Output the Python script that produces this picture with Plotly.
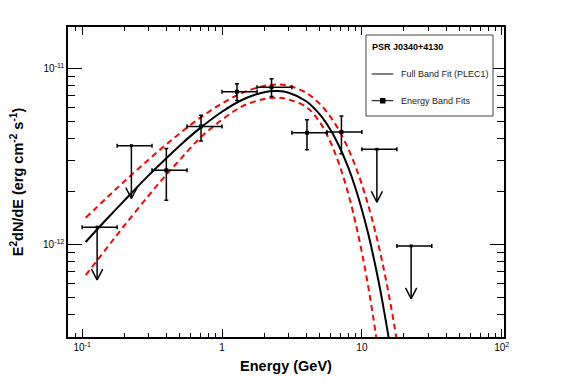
import plotly.graph_objects as go

# ---------------- data ----------------
# Energy band fits (GeV, erg cm^-2 s^-1)
band_energy = [0.128, 0.225, 0.40, 0.708, 1.28, 2.26, 4.05, 7.14, 12.8, 22.5]
band_e_low = [0.100, 0.178, 0.316, 0.562, 1.00, 1.78, 3.16, 5.62, 10.0, 17.8]
band_e_high = [0.178, 0.316, 0.562, 1.00, 1.78, 3.16, 5.62, 10.0, 17.8, 31.6]
band_flux = [1.25e-12, 3.63e-12, 2.63e-12, 4.67e-12, 7.35e-12, 7.80e-12,
             4.30e-12, 4.34e-12, 3.46e-12, 9.78e-13]
band_flux_high = [None, None, 3.50e-12, 5.40e-12, 8.16e-12, 8.71e-12,
                  5.09e-12, 5.35e-12, None, None]
band_flux_low = [None, None, 1.78e-12, 3.86e-12, 6.56e-12, 6.90e-12,
                 3.44e-12, 3.27e-12, None, None]
band_upper_limit = [True, True, False, False, False, False, False, False, True, True]

# Full band fit (PLEC1)
fit_energy = [0.106, 0.15, 0.2, 0.3, 0.4, 0.5, 0.7, 1.0, 1.4, 2.0, 2.5, 3.0, 4.0,
              5.0, 6.0, 7.0, 8.0, 9.0, 10, 11, 12, 13, 14, 15, 16]
fit_flux = [1.03e-12, 1.39e-12, 1.77e-12, 2.47e-12, 3.08e-12, 3.64e-12, 4.58e-12,
            5.66e-12, 6.62e-12, 7.31e-12, 7.41e-12, 7.26e-12, 6.49e-12, 5.46e-12,
            4.43e-12, 3.50e-12, 2.72e-12, 2.08e-12, 1.57e-12, 1.18e-12, 8.75e-13,
            6.47e-13, 4.75e-13, 3.48e-13, 2.54e-13]

# Upper envelope (red dashed)
upper_energy = [0.106, 0.15, 0.2, 0.3, 0.4, 0.5, 0.7, 1.0, 1.4, 2.0, 2.5, 3.0, 4.0,
                5.0, 6.0, 7.0, 8.0, 9.0, 10, 11, 12, 13, 14, 15, 16, 17, 18]
upper_flux = [1.413e-12, 1.837e-12, 2.270e-12, 3.034e-12, 3.690e-12, 4.27e-12,
              5.236e-12, 6.310e-12, 7.244e-12, 7.932e-12, 8.072e-12, 7.943e-12,
              7.244e-12, 6.273e-12, 5.260e-12, 4.315e-12, 3.477e-12, 2.770e-12,
              2.185e-12, 1.710e-12, 1.329e-12, 1.028e-12, 7.91e-13, 6.05e-13,
              4.62e-13, 3.52e-13, 2.67e-13]

# Lower envelope (red dashed)
lower_energy = [0.106, 0.15, 0.2, 0.3, 0.4, 0.5, 0.7, 1.0, 1.4, 2.0, 2.5, 3.0, 4.0,
                5.0, 6.0, 7.0, 8.0, 9.0, 10, 11, 12, 13]
lower_flux = [6.67e-13, 9.51e-13, 1.274e-12, 1.897e-12, 2.483e-12, 3.020e-12,
              4.027e-12, 5.093e-12, 6.081e-12, 6.683e-12, 6.792e-12, 6.637e-12,
              6.026e-12, 4.943e-12, 3.758e-12, 2.735e-12, 1.932e-12, 1.330e-12,
              8.99e-13, 6.00e-13, 3.94e-13, 2.56e-13]

legend_title = "PSR J0340+4130"
fit_label = "Full Band Fit (PLEC1)"
band_label = "Energy Band Fits"

x_tick_vals = [0.1, 1, 10, 100]
x_tick_text = ["10<sup>-1</sup>", "1", "10", "10<sup>2</sup>"]
y_tick_vals = [1e-12, 1e-11]
y_tick_text = ["10<sup>-12</sup>", "10<sup>-11</sup>"]

# ---------------- style ----------------
FONT = "Liberation Sans, Arial, Helvetica, sans-serif"
W, H = 567, 384
ML, MR, MT, MB = 68, 63, 27, 47
PW, PH = W - ML - MR, H - MT - MB
ARROW_DEC = 0.30      # arrow length in decades
HEAD_DX = 10 ** 0.040  # arrow head half width (log factor)
HEAD_DY = 10 ** 0.062  # arrow head height (log factor)


def pxx(x):
    return (x - ML) / PW


def pxy(y):
    return (H - MB - y) / PH


fig = go.Figure()

# envelopes
fig.add_trace(go.Scatter(x=upper_energy, y=upper_flux, mode="lines",
                         line=dict(color="#ff0000", width=2, dash="6px,4px"),
                         line_shape="spline", showlegend=False, hoverinfo="skip"))
fig.add_trace(go.Scatter(x=lower_energy, y=lower_flux, mode="lines",
                         line=dict(color="#ff0000", width=2, dash="6px,4px"),
                         line_shape="spline", showlegend=False, hoverinfo="skip"))
# full band fit
fig.add_trace(go.Scatter(x=fit_energy, y=fit_flux, mode="lines",
                         line=dict(color="black", width=2), line_shape="spline",
                         showlegend=False))

# detections
det = [i for i, u in enumerate(band_upper_limit) if not u]
fig.add_trace(go.Scatter(
    x=[band_energy[i] for i in det], y=[band_flux[i] for i in det], mode="markers",
    marker=dict(symbol="square", size=4, color="black"),
    error_x=dict(type="data", symmetric=False,
                 array=[band_e_high[i] - band_energy[i] for i in det],
                 arrayminus=[band_energy[i] - band_e_low[i] for i in det],
                 color="black", thickness=1.5, width=2),
    error_y=dict(type="data", symmetric=False,
                 array=[band_flux_high[i] - band_flux[i] for i in det],
                 arrayminus=[band_flux[i] - band_flux_low[i] for i in det],
                 color="black", thickness=1.5, width=2),
    showlegend=False))

# upper limits
ul = [i for i, u in enumerate(band_upper_limit) if u]
fig.add_trace(go.Scatter(
    x=[band_energy[i] for i in ul], y=[band_flux[i] for i in ul], mode="markers",
    marker=dict(symbol="square", size=3, color="black"),
    error_x=dict(type="data", symmetric=False,
                 array=[band_e_high[i] - band_energy[i] for i in ul],
                 arrayminus=[band_energy[i] - band_e_low[i] for i in ul],
                 color="black", thickness=1.5, width=2),
    showlegend=False))

ax, ay = [], []
for i in ul:
    e, f = band_energy[i], band_flux[i]
    tip = f * 10 ** (-ARROW_DEC)
    ax += [e, e, None, e / HEAD_DX, e, e * HEAD_DX, None]
    ay += [f, tip, None, tip * HEAD_DY, tip, tip * HEAD_DY, None]
fig.add_trace(go.Scatter(x=ax, y=ay, mode="lines", line=dict(color="black", width=1.5),
                         showlegend=False, hoverinfo="skip"))

axis_common = dict(type="log", showgrid=False, zeroline=False, showline=True,
                   linecolor="black", linewidth=1.5, mirror="ticks", ticks="inside",
                   tickcolor="black", tickwidth=1,
                   tickfont=dict(family=FONT, size=10, color="black"))

fig.update_xaxes(**axis_common, range=[-1.101, 2.016], tickvals=x_tick_vals,
                 ticktext=x_tick_text, ticklen=8,
                 minor=dict(ticks="inside", ticklen=4, dtick="D1", tickcolor="black",
                            tickwidth=1),
                 title=dict(text="<b>Energy (GeV)</b>", standoff=9,
                            font=dict(family=FONT, size=14.5, color="black")))
fig.update_yaxes(**axis_common, range=[-12.527, -10.766], tickvals=y_tick_vals,
                 ticktext=y_tick_text, ticklen=14,
                 minor=dict(ticks="inside", ticklen=7, dtick="D1", tickcolor="black",
                            tickwidth=1),
                 title=dict(text="<b>E<sup>2</sup>dN/dE (erg cm<sup>-2</sup> s<sup>-1</sup>)</b>",
                            standoff=16, font=dict(family=FONT, size=14.5, color="black")))

# manual legend box
shapes = [
    dict(type="rect", xref="paper", yref="paper", x0=pxx(366), x1=pxx(493),
         y0=pxy(116), y1=pxy(35), line=dict(color="#444", width=1), fillcolor="white"),
    dict(type="line", xref="paper", yref="paper", x0=pxx(371.7), x1=pxx(393.3),
         y0=pxy(74), y1=pxy(74), line=dict(color="black", width=1)),
    dict(type="line", xref="paper", yref="paper", x0=pxx(371.7), x1=pxx(393.3),
         y0=pxy(100.7), y1=pxy(100.7), line=dict(color="black", width=1)),
    dict(type="rect", xref="paper", yref="paper", x0=pxx(380), x1=pxx(385.5),
         y0=pxy(103.5), y1=pxy(98), line=dict(color="black", width=0), fillcolor="black"),
]
annotations = [
    dict(text="<b>" + legend_title + "</b>", xref="paper", yref="paper",
         x=pxx(370), y=pxy(47.3), xanchor="left", yanchor="middle", showarrow=False,
         font=dict(family=FONT, size=9, color="black")),
    dict(text=fit_label, xref="paper", yref="paper", x=pxx(398.5), y=pxy(74),
         xanchor="left", yanchor="middle", showarrow=False,
         font=dict(family=FONT, size=9, color="#222")),
    dict(text=band_label, xref="paper", yref="paper", x=pxx(398.5), y=pxy(100.7),
         xanchor="left", yanchor="middle", showarrow=False,
         font=dict(family=FONT, size=9, color="#222")),
]

fig.update_layout(width=W, height=H, margin=dict(l=ML, r=MR, t=MT, b=MB),
                  paper_bgcolor="white", plot_bgcolor="white",
                  font=dict(family=FONT, color="black"),
                  shapes=shapes, annotations=annotations, showlegend=False)

fig.write_html("out.html", config={"displayModeBar": False},
               post_script="document.body.style.margin='0px';document.body.style.overflow='hidden';")
